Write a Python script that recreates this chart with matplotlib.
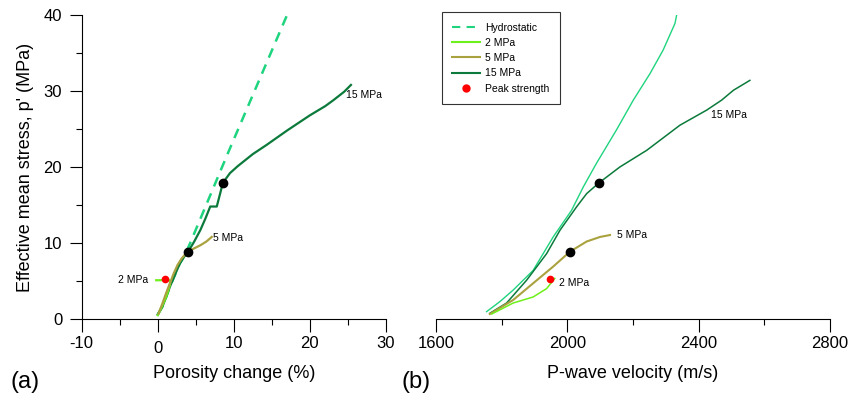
import matplotlib
matplotlib.use("Agg")
import matplotlib.pyplot as plt
from matplotlib.ticker import MultipleLocator
from matplotlib.lines import Line2D

plt.rcParams['font.family'] = ['Liberation Sans Narrow', 'Liberation Sans', 'DejaVu Sans']

# colours
c_hyd = '#1fd47f'
c_2 = '#6ef01a'
c_5 = '#aaa23f'
c_15 = '#0b7a3b'

# ---- (a) porosity change (%) vs effective mean stress (MPa)
hyd_phi = [0.0, 0.6, 1.0, 1.6, 2.3, 2.9, 3.4, 4.25, 9.3, 17.0]
hyd_p = [0.6, 1.6, 2.6, 4.25, 5.9, 7.3, 8.1, 9.96, 22.0, 40.0]

p15_phi = [0.0, 0.6, 1.0, 1.6, 2.3, 2.9, 3.4, 4.0, 4.8, 5.6, 6.3, 6.9, 7.76, 8.2, 8.55,
           9.5, 10.5, 11.5, 12.5, 14.3, 17.0, 20.0, 22.0, 23.1, 24.5, 25.4]
p15_p = [0.6, 1.6, 2.6, 4.25, 5.9, 7.3, 8.1, 8.86, 10.2, 11.7, 13.3, 14.8, 14.8, 16.5, 17.9,
         19.2, 20.1, 20.9, 21.7, 22.9, 24.8, 26.8, 28.0, 28.8, 29.9, 30.8]

p5_phi = [0.1, 0.6, 1.1, 1.6, 2.1, 2.6, 3.1, 3.6, 4.0, 4.8, 5.6, 6.4, 7.1]
p5_p = [0.7, 2.0, 3.4, 4.7, 6.0, 7.1, 7.9, 8.5, 8.86, 9.3, 9.7, 10.2, 10.8]

p2_phi = [0.0, 0.4, 0.74, 1.1, 1.4, 1.6, 1.65, 1.4, 0.96, 0.4, -0.2]
p2_p = [0.5, 1.3, 2.07, 2.9, 3.8, 4.5, 4.9, 5.2, 5.2, 5.1, 5.1]

peak_phi = [0.96]
peak_pa = [5.2]
dots_phi = [4.0, 8.55]
dots_pa = [8.86, 17.9]

# ---- (b) P-wave velocity (m/s) vs effective mean stress (MPa)
hyd_v = [1754, 1795, 1835, 1896, 1957, 2013, 2049, 2089, 2150, 2201, 2252, 2292, 2328, 2333]
hyd_pv = [0.96, 2.3, 3.8, 6.4, 10.8, 14.3, 17.4, 20.5, 24.9, 28.8, 32.3, 35.4, 38.9, 40.0]

v15 = [1764, 1815, 1876, 1937, 1978, 2029, 2059, 2096, 2160, 2242, 2343, 2425, 2470,
       2506, 2556]
v15_p = [0.75, 2.1, 5.1, 8.6, 11.7, 14.8, 16.5, 17.9, 20.0, 22.2, 25.5, 27.5, 28.8,
         30.1, 31.4]

v5 = [1764, 1835, 1896, 1957, 2008, 2059, 2100, 2130]
v5_p = [0.66, 2.5, 4.7, 6.9, 8.86, 10.2, 10.8, 11.05]

v2 = [1770, 1835, 1896, 1937, 1962]
v2_p = [0.66, 2.1, 2.9, 4.0, 5.35]

peak_v = [1947]
peak_pv = [5.26]
dots_v = [2008, 2096]
dots_pv = [8.86, 17.9]

fig = plt.figure(figsize=(8.49, 3.95), dpi=100)
ax1 = fig.add_axes([0.0962, 0.1924, 0.3584, 0.7696])
ax2 = fig.add_axes([0.5135, 0.1924, 0.4641, 0.7696])

# panel a
ax1.plot(hyd_phi, hyd_p, color=c_hyd, lw=1.8, ls=(0, (4, 3)))
ax1.plot(p15_phi, p15_p, color=c_15, lw=1.6)
ax1.plot(p2_phi, p2_p, color=c_2, lw=1.6)
ax1.plot(p5_phi, p5_p, color=c_5, lw=1.6)
ax1.plot(peak_phi, peak_pa, 'o', color='red', ms=4.5, zorder=5)
ax1.plot(dots_phi, dots_pa, 'o', color='black', ms=6, zorder=5)
ax1.text(-1.3, 5.1, '2 MPa', fontsize=7.5, ha='right', va='center')
ax1.text(7.3, 10.6, '5 MPa', fontsize=7.5, ha='left', va='center')
ax1.text(24.8, 29.5, '15 MPa', fontsize=7.5, ha='left', va='center')

ax1.set_xlim(-10, 30)
ax1.set_ylim(0, 40)
for s in ['top', 'right']:
    ax1.spines[s].set_visible(False)
ax1.xaxis.set_major_locator(MultipleLocator(10))
ax1.xaxis.set_minor_locator(MultipleLocator(5))
ax1.yaxis.set_major_locator(MultipleLocator(10))
ax1.yaxis.set_minor_locator(MultipleLocator(5))
ax1.tick_params(which='major', direction='out', length=9, width=0.8, labelsize=12)
ax1.tick_params(which='minor', direction='out', length=4.5, width=0.8)
ax1.tick_params(axis='x', pad=3)
ax1.tick_params(axis='y', pad=5)
ax1.set_xticks([-10, 0, 10, 20, 30])
ax1.set_xticklabels(['-10', '', '10', '20', '30'])
ax1.text(0, -0.072, '0', transform=ax1.get_xaxis_transform(), ha='center', va='top', fontsize=12)
ax1.set_xlabel('Porosity change (%)', fontsize=13, labelpad=10)
ax1.set_ylabel("Effective mean stress, p' (MPa)", fontsize=13, labelpad=7)
fig.text(0.012, 0.018, '(a)', fontsize=17)

# panel b
ax2.plot(hyd_v, hyd_pv, color=c_hyd, lw=1.0)
ax2.plot(v15, v15_p, color=c_15, lw=1.1)
ax2.plot(v5, v5_p, color=c_5, lw=1.5)
ax2.plot(v2, v2_p, color=c_2, lw=1.1)
ax2.plot(peak_v, peak_pv, 'o', color='red', ms=4.5, zorder=5)
ax2.plot(dots_v, dots_pv, 'o', color='black', ms=6, zorder=5)
ax2.text(1975, 4.8, '2 MPa', fontsize=7.5, ha='left', va='center')
ax2.text(2150, 11.1, '5 MPa', fontsize=7.5, ha='left', va='center')
ax2.text(2438, 26.9, '15 MPa', fontsize=7.5, ha='left', va='center')

ax2.set_xlim(1600, 2800)
ax2.set_ylim(0, 40)
for s in ['top', 'right', 'left']:
    ax2.spines[s].set_visible(False)
ax2.set_yticks([])
ax2.xaxis.set_major_locator(MultipleLocator(400))
ax2.xaxis.set_minor_locator(MultipleLocator(200))
ax2.tick_params(which='major', direction='out', length=9, width=0.8, labelsize=12, pad=3)
ax2.tick_params(which='minor', direction='out', length=4.5, width=0.8)
ax2.set_xlabel('P-wave velocity (m/s)', fontsize=13, labelpad=10)
fig.text(0.473, 0.018, '(b)', fontsize=17)

handles = [
    Line2D([], [], color=c_hyd, lw=1.5, ls=(0, (4, 3))),
    Line2D([], [], color=c_2, lw=1.5),
    Line2D([], [], color=c_5, lw=1.5),
    Line2D([], [], color=c_15, lw=1.5),
    Line2D([], [], color='red', marker='o', ls='none', ms=5),
]
labels = ['Hydrostatic', '2 MPa', '5 MPa', '15 MPa', 'Peak strength']
leg = fig.legend(handles, labels, loc='upper left', bbox_to_anchor=(441.7 / 849, 1 - 12.3 / 395),
                 fontsize=7.5, frameon=True, fancybox=False, handlelength=2.7,
                 borderpad=1.0, labelspacing=0.5, handletextpad=0.5, borderaxespad=0)
leg.get_frame().set_edgecolor('black')
leg.get_frame().set_linewidth(0.8)

fig.savefig('out.png', dpi=100)
